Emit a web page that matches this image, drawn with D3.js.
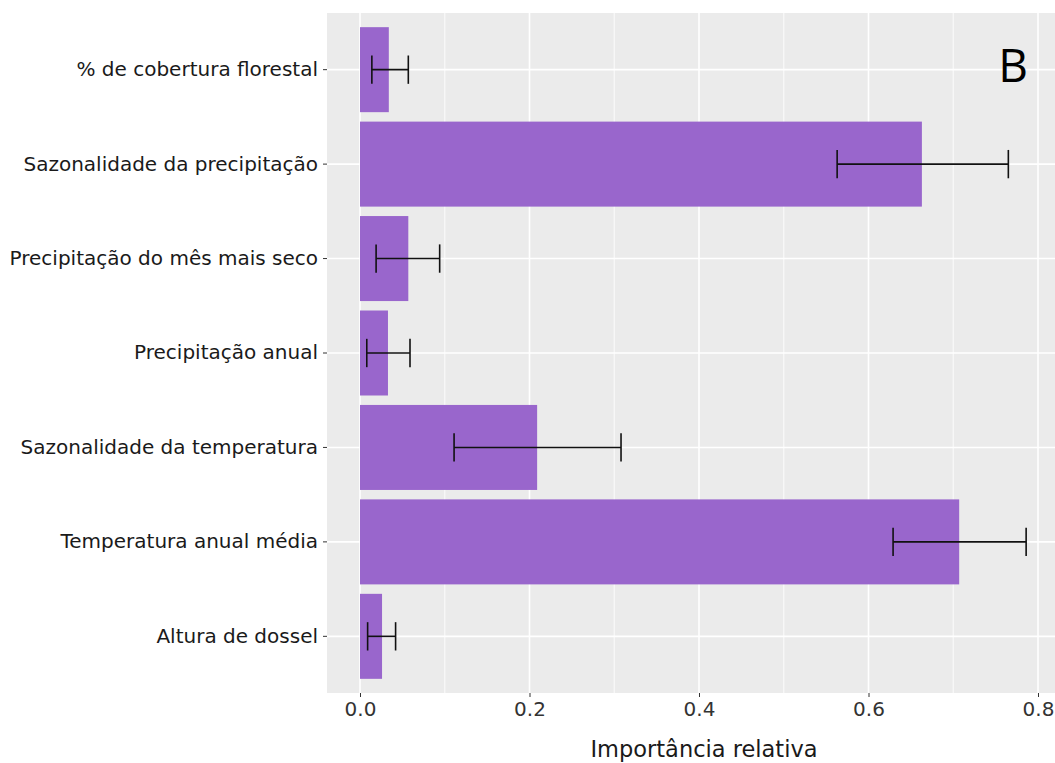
<!DOCTYPE html>
<html>
<head>
<meta charset="utf-8">
<script src="https://cdn.jsdelivr.net/npm/d3@7"></script>
<style>
  body { margin: 0; background: #fff; }
  text { font-family: "DejaVu Sans", Verdana, sans-serif; }
</style>
</head>
<body>
<div id="chart"></div>
<script>
// variables, top to bottom as drawn
const categories = [
    "% de cobertura florestal",
    "Sazonalidade da precipitação",
    "Precipitação do mês mais seco",
    "Precipitação anual",
    "Sazonalidade da temperatura",
    "Temperatura anual média",
    "Altura de dossel"
];
const importance = [0.034, 0.663, 0.057, 0.033, 0.209, 0.707, 0.026];
const errLow = [0.014, 0.563, 0.019, 0.008, 0.111, 0.629, 0.009];
const errHigh = [0.057, 0.765, 0.094, 0.059, 0.308, 0.786, 0.042];
const xTicks = [0, 0.2, 0.4, 0.6, 0.8];
const xMinor = [0.1, 0.3, 0.5, 0.7];

const width = 1055, height = 763;
const margin = { top: 13, right: 0, bottom: 70, left: 327 };
const innerW = width - margin.left - margin.right;
const innerH = height - margin.top - margin.bottom;

const svg = d3.select("#chart").append("svg")
    .attr("width", width)
    .attr("height", height);

const g = svg.append("g")
    .attr("transform", "translate(" + margin.left + "," + margin.top + ")");

// 0.0 sits at x=360, 0.8 at x=1038
const xScale = d3.scaleLinear()
    .domain([0, 0.8])
    .range([360 - margin.left, 1038 - margin.left]);

// ggplot-like discrete axis: 0.6 expansion each side, bar width 0.9
const yScale = d3.scaleBand()
    .domain(categories)
    .range([0, innerH])
    .paddingInner(0.1)
    .paddingOuter(0.15);
const step = yScale.step();

g.append("rect")
    .attr("width", innerW)
    .attr("height", innerH)
    .attr("fill", "#ebebeb");

// minor grid
g.selectAll(".minor").data(xMinor).enter().append("line")
    .attr("x1", d => xScale(d)).attr("x2", d => xScale(d))
    .attr("y1", 0).attr("y2", innerH)
    .attr("stroke", "#fafafa").attr("stroke-width", 1.1);

// major grid
g.selectAll(".vmajor").data(xTicks).enter().append("line")
    .attr("x1", d => xScale(d)).attr("x2", d => xScale(d))
    .attr("y1", 0).attr("y2", innerH)
    .attr("stroke", "#fff").attr("stroke-width", 1.6);

g.selectAll(".hmajor").data(categories).enter().append("line")
    .attr("x1", 0).attr("x2", innerW)
    .attr("y1", d => yScale(d) + yScale.bandwidth() / 2)
    .attr("y2", d => yScale(d) + yScale.bandwidth() / 2)
    .attr("stroke", "#fff").attr("stroke-width", 1.6);

// bars
g.selectAll(".bar").data(categories).enter().append("rect")
    .attr("x", xScale(0))
    .attr("y", d => yScale(d))
    .attr("width", (d, i) => xScale(importance[i]) - xScale(0))
    .attr("height", yScale.bandwidth())
    .attr("fill", "#9966cc");

// error bars
const capH = step * 0.3;
const eb = g.selectAll(".err").data(categories).enter().append("g")
    .attr("transform", d => "translate(0," + (yScale(d) + yScale.bandwidth() / 2) + ")");
eb.append("line")
    .attr("x1", (d, i) => xScale(errLow[i]))
    .attr("x2", (d, i) => xScale(errHigh[i]))
    .attr("stroke", "#111").attr("stroke-width", 1.6);
eb.append("line")
    .attr("x1", (d, i) => xScale(errLow[i])).attr("x2", (d, i) => xScale(errLow[i]))
    .attr("y1", -capH / 2).attr("y2", capH / 2)
    .attr("stroke", "#111").attr("stroke-width", 1.6);
eb.append("line")
    .attr("x1", (d, i) => xScale(errHigh[i])).attr("x2", (d, i) => xScale(errHigh[i]))
    .attr("y1", -capH / 2).attr("y2", capH / 2)
    .attr("stroke", "#111").attr("stroke-width", 1.6);

// axes
const xAxis = g.append("g")
    .attr("transform", "translate(0," + innerH + ")")
    .call(d3.axisBottom(xScale).tickValues(xTicks).tickFormat(d3.format(".1f")).tickSize(4).tickPadding(5));
xAxis.select(".domain").remove();
xAxis.selectAll("line").attr("stroke", "#333");
xAxis.selectAll("text").attr("fill", "#333").style("font-size", "20px")
    .style("font-family", "DejaVu Sans");

const yAxis = g.append("g")
    .call(d3.axisLeft(yScale).tickSize(4).tickPadding(5));
yAxis.select(".domain").remove();
yAxis.selectAll("line").attr("stroke", "#333");
yAxis.selectAll("text").attr("fill", "#1a1a1a").style("font-size", "20px")
    .style("font-family", "DejaVu Sans");

svg.append("text")
    .attr("x", 704)
    .attr("y", 757)
    .attr("text-anchor", "middle")
    .attr("fill", "#1a1a1a")
    .style("font-size", "22.5px")
    .text("Importância relativa");

svg.append("text")
    .attr("x", 1013)
    .attr("y", 82)
    .attr("text-anchor", "middle")
    .attr("fill", "#000")
    .style("font-family", "'Open Sans', 'Liberation Sans', sans-serif")
    .style("font-size", "46px")
    .text("B");
</script>
</body>
</html>
